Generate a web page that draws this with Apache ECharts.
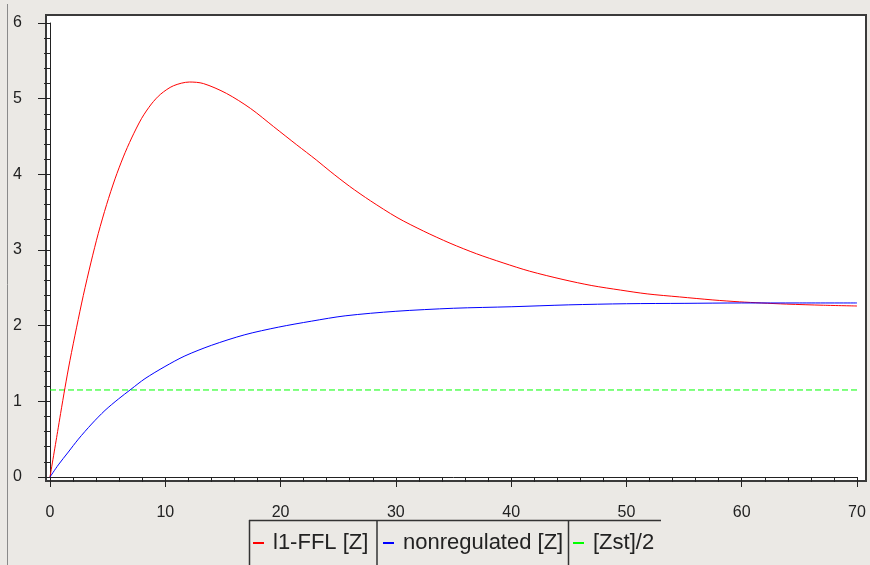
<!DOCTYPE html>
<html>
<head>
<meta charset="utf-8">
<script src="https://cdn.jsdelivr.net/npm/echarts@6/dist/echarts.min.js"></script>
<style>
html,body{margin:0;padding:0;background:#ebe9e5;}
#chart{width:870px;height:565px;}
</style>
</head>
<body>
<div id="chart"></div>
<script>
// ---- data ----
const seriesNames = ['l1-FFL [Z]', 'nonregulated [Z]', '[Zst]/2'];

const redT = [0, 0.66, 0.92, 1.3, 1.73, 2.31, 2.89, 3.56, 4.19, 4.91, 5.64, 6.36, 7.08, 7.95, 8.8, 9.6, 10.7, 12.1, 13.3, 15.3, 17.4, 19.4, 21.4, 23.1, 24.3, 26.0, 27.8, 30.1, 32.4, 34.7, 37.0, 39.3, 41.6, 44.5, 47.0, 49.5, 51.8, 54.6, 57.5, 59.8, 61.7, 63.9, 67.1, 70];
const redZ = [0, 0.60, 0.84, 1.18, 1.54, 1.98, 2.40, 2.84, 3.22, 3.60, 3.94, 4.23, 4.48, 4.74, 4.93, 5.06, 5.17, 5.22, 5.20, 5.07, 4.87, 4.63, 4.39, 4.19, 4.04, 3.84, 3.65, 3.43, 3.25, 3.09, 2.95, 2.83, 2.72, 2.61, 2.53, 2.47, 2.42, 2.38, 2.34, 2.315, 2.30, 2.285, 2.27, 2.26];

const blueT = [0, 0.72, 1.59, 2.46, 3.61, 4.77, 5.93, 7.03, 8.24, 9.97, 11.7, 14.0, 16.9, 19.8, 22.7, 25.6, 30, 35, 40, 45, 50, 55, 60, 65, 70];
const blueZ = [0, 0.16, 0.33, 0.50, 0.70, 0.88, 1.03, 1.16, 1.30, 1.46, 1.60, 1.74, 1.88, 1.98, 2.06, 2.13, 2.19, 2.23, 2.25, 2.275, 2.29, 2.295, 2.30, 2.30, 2.30];

const greenT = [0, 70];
const greenZ = [1.15, 1.15];

const xTicks = [0, 10, 20, 30, 40, 50, 60, 70];
const yTicks = [0, 1, 2, 3, 4, 5, 6];

// ---- chart ----
const zip = (a, b) => a.map((v, i) => [v, b[i]]);
const chart = echarts.init(document.getElementById('chart'), null, {renderer: 'canvas'});
const FONT = '"Liberation Sans", Arial, sans-serif';
const axisCol = '#222';

function legendAt(left, name, color) {
  return {
    data: [name], left: left, top: 532, padding: 0, orient: 'horizontal',
    selectedMode: false, icon: 'rect', itemWidth: 11, itemHeight: 2,
    itemStyle: {color: color},
    textStyle: {fontFamily: FONT, fontSize: 22, color: '#222', padding: [0, 0, 0, 4]}
  };
}

chart.setOption({
  backgroundColor: '#ebe9e5',
  animation: false,
  grid: {left: 50, right: 13, top: 23, bottom: 88, containLabel: false},
  xAxis: {
    type: 'value', min: xTicks[0], max: xTicks[xTicks.length - 1], interval: 10,
    offset: 10,
    axisLine: {show: true, lineStyle: {color: axisCol, width: 1}},
    axisTick: {show: true, length: 10, lineStyle: {color: axisCol, width: 1}},
    minorTick: {show: true, splitNumber: 5, length: 5, lineStyle: {color: axisCol, width: 1}},
    splitLine: {show: false},
    axisLabel: {margin: 18, fontFamily: FONT, fontSize: 16, color: axisCol}
  },
  yAxis: {
    type: 'value', min: yTicks[0], max: yTicks[yTicks.length - 1], interval: 1,
    offset: 9,
    axisLine: {show: true, lineStyle: {color: axisCol, width: 1}},
    axisTick: {show: true, length: 12, lineStyle: {color: axisCol, width: 1}},
    minorTick: {show: true, splitNumber: 5, length: 6, lineStyle: {color: axisCol, width: 1}},
    splitLine: {show: false},
    axisLabel: {margin: 19, fontFamily: FONT, fontSize: 16, color: axisCol}
  },
  legend: [
    legendAt(253, seriesNames[0], '#ff0000'),
    legendAt(383, seriesNames[1], '#0000ff'),
    legendAt(573, seriesNames[2], '#00ff00')
  ],
  graphic: [
    {type: 'rect', z: -10, silent: true,
     shape: {x: 46, y: 15, width: 820, height: 466},
     style: {fill: '#ffffff', stroke: '#3a3a3a', lineWidth: 2}},
    {type: 'line', silent: true, shape: {x1: 7.5, y1: 4, x2: 7.5, y2: 565}, style: {stroke: '#8a8a8a', lineWidth: 1}},
    {type: 'line', silent: true, shape: {x1: 249, y1: 520.5, x2: 661, y2: 520.5}, style: {stroke: '#333', lineWidth: 1.5}},
    {type: 'line', silent: true, shape: {x1: 249.5, y1: 520, x2: 249.5, y2: 565}, style: {stroke: '#333', lineWidth: 1.5}},
    {type: 'line', silent: true, shape: {x1: 377, y1: 520, x2: 377, y2: 565}, style: {stroke: '#333', lineWidth: 1.5}},
    {type: 'line', silent: true, shape: {x1: 568.5, y1: 520, x2: 568.5, y2: 565}, style: {stroke: '#333', lineWidth: 1.5}}
  ],
  series: [
    {name: seriesNames[0], type: 'line', data: zip(redT, redZ), showSymbol: false, smooth: 0.3,
     lineStyle: {color: '#ff0000', width: 1}, itemStyle: {color: '#ff0000'}, z: 3},
    {name: seriesNames[1], type: 'line', data: zip(blueT, blueZ), showSymbol: false, smooth: 0.3,
     lineStyle: {color: '#0000ff', width: 1}, itemStyle: {color: '#0000ff'}, z: 4},
    {name: seriesNames[2], type: 'line', data: zip(greenT, greenZ), showSymbol: false,
     lineStyle: {color: '#00ff00', width: 1, type: [6, 3]}, itemStyle: {color: '#00ff00'}, z: 2}
  ]
});
</script>
</body>
</html>
